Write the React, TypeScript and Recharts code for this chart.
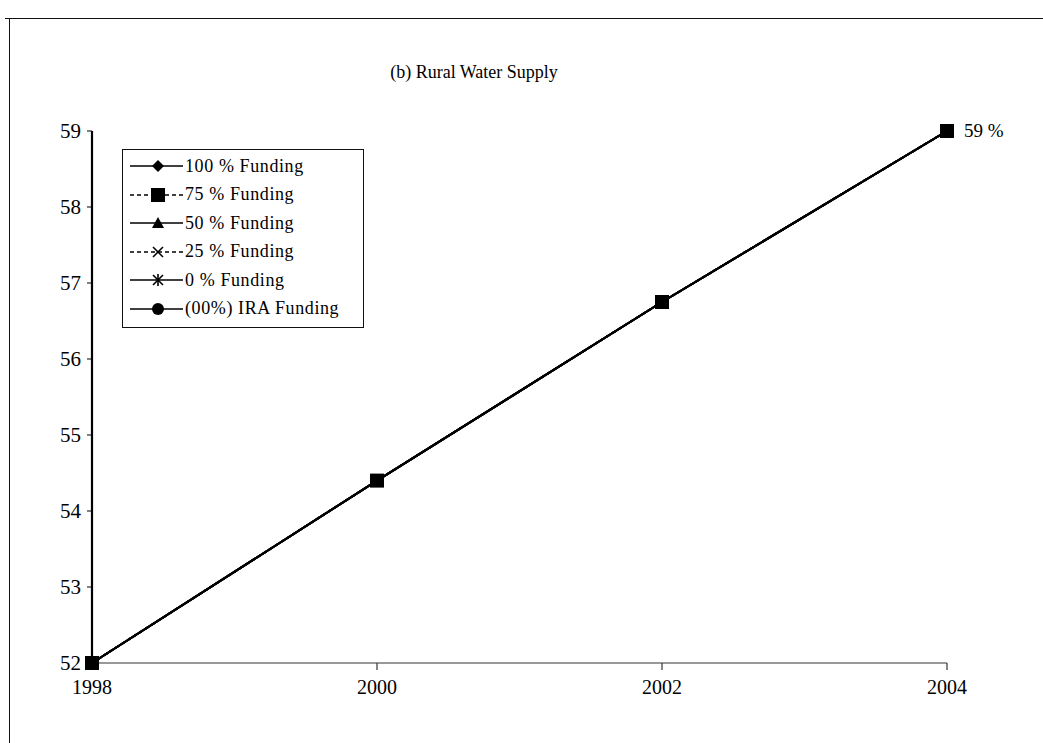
import { LineChart, Line, XAxis, YAxis, Legend, LabelList } from 'recharts';

// values (all six series coincide)
const years = [1998, 2000, 2002, 2004];
const funding100 = [52, 54.4, 56.75, 59];
const funding75 = [52, 54.4, 56.75, 59];
const funding50 = [52, 54.4, 56.75, 59];
const funding25 = [52, 54.4, 56.75, 59];
const funding0 = [52, 54.4, 56.75, 59];
const fundingIRA = [52, 54.4, 56.75, 59];
const yTicks = [52, 53, 54, 55, 56, 57, 58, 59];

const data = years.map((year, i) => ({
    year,
    f100: funding100[i],
    f75: funding75[i],
    f50: funding50[i],
    f25: funding25[i],
    f0: funding0[i],
    fIRA: fundingIRA[i],
}));

const FONT = '"Liberation Serif", "Times New Roman", serif';

type Marker = 'diamond' | 'square' | 'triangle' | 'x' | 'star' | 'circle';

// legend order
const series: { key: string; name: string; marker: Marker; dash?: string }[] = [
    { key: 'f100', name: '100 % Funding', marker: 'diamond' },
    { key: 'f75', name: '75 % Funding', marker: 'square', dash: '4 3' },
    { key: 'f50', name: '50 % Funding', marker: 'triangle' },
    { key: 'f25', name: '25 % Funding', marker: 'x', dash: '4 3' },
    { key: 'f0', name: '0 % Funding', marker: 'star' },
    { key: 'fIRA', name: '(00%) IRA Funding', marker: 'circle' },
];

// draw order: square series last so it sits on top
const drawOrder = ['f100', 'f50', 'f25', 'f0', 'fIRA', 'f75'];

const renderMarker = (marker: Marker, cx: number, cy: number, key?: string) => {
    switch (marker) {
        case 'diamond':
            return <polygon key={key} points={`${cx},${cy - 6} ${cx + 6},${cy} ${cx},${cy + 6} ${cx - 6},${cy}`} fill="#000" />;
        case 'square':
            return <rect key={key} x={cx - 7} y={cy - 7} width={14} height={14} fill="#000" />;
        case 'triangle':
            return <polygon key={key} points={`${cx},${cy - 6} ${cx + 6},${cy + 5} ${cx - 6},${cy + 5}`} fill="#000" />;
        case 'x':
            return (
                <g key={key} stroke="#000" strokeWidth={1.5}>
                    <line x1={cx - 5} y1={cy - 5} x2={cx + 5} y2={cy + 5} />
                    <line x1={cx - 5} y1={cy + 5} x2={cx + 5} y2={cy - 5} />
                </g>
            );
        case 'star':
            return (
                <g key={key} stroke="#000" strokeWidth={1.6}>
                    <line x1={cx - 5} y1={cy - 5} x2={cx + 5} y2={cy + 5} />
                    <line x1={cx - 5} y1={cy + 5} x2={cx + 5} y2={cy - 5} />
                    <line x1={cx} y1={cy - 6} x2={cx} y2={cy + 6} />
                </g>
            );
        case 'circle':
        default:
            return <circle key={key} cx={cx} cy={cy} r={6} fill="#000" />;
    }
};

const LegendBox = () => (
    <div
        style={{
            border: '1.5px solid #111',
            background: '#fff',
            width: 240,
            padding: '2px 0 4px 0',
            fontFamily: FONT,
        }}
    >
        {series.map((s) => (
            <div key={s.key} style={{ display: 'flex', alignItems: 'center', height: 28.5 }}>
                <svg width={62} height={20} style={{ flex: 'none' }}>
                    <line x1={7} y1={10} x2={60} y2={10} stroke="#000" strokeWidth={1.6} strokeDasharray={s.dash} />
                    {renderMarker(s.marker, 35, 10)}
                </svg>
                <span style={{ fontSize: 18, letterSpacing: 0.6, color: '#000', whiteSpace: 'nowrap' }}>
                    {s.name}
                </span>
            </div>
        ))}
    </div>
);

const EndLabel = (props: any) => {
    const { x, y, value, index } = props;
    if (index !== years.length - 1) return null;
    return (
        <text x={x + 17} y={y} dy={6} fontFamily={FONT} fontSize={19} fill="#000">
            {`${value} %`}
        </text>
    );
};

export default function App() {
    return (
        <div style={{ position: 'absolute', left: 0, top: 0, width: 1043, height: 743, background: '#fff' }}>
            {/* scanned page frame */}
            <div style={{ position: 'absolute', left: 5, top: 18, width: 1038, borderTop: '1.5px solid #111' }} />
            <div style={{ position: 'absolute', left: 9, top: 18, height: 725, borderLeft: '1.5px solid #111' }} />

            <div
                style={{
                    position: 'absolute',
                    left: 354,
                    top: 62,
                    width: 240,
                    textAlign: 'center',
                    fontFamily: FONT,
                    fontSize: 18,
                    color: '#000',
                }}
            >
                (b) Rural Water Supply
            </div>

            <LineChart
                width={1043}
                height={743}
                data={data}
                margin={{ top: 131, right: 96, bottom: 50, left: 48 }}
            >
                <XAxis
                    dataKey="year"
                    type="number"
                    domain={[1998, 2004]}
                    ticks={years}
                    height={30}
                    axisLine={{ stroke: '#333', strokeWidth: 1.2 }}
                    tickLine={{ stroke: '#333', strokeWidth: 1.2 }}
                    tickSize={7}
                    tickMargin={10}
                    tick={{ fill: '#000', fontFamily: FONT, fontSize: 20 }}
                />
                <YAxis
                    type="number"
                    domain={[52, 59]}
                    ticks={yTicks}
                    width={44}
                    axisLine={{ stroke: '#000', strokeWidth: 2.2 }}
                    tickLine={{ stroke: '#000', strokeWidth: 1 }}
                    tickSize={5}
                    tickMargin={6}
                    tick={{ fill: '#000', fontFamily: FONT, fontSize: 21 }}
                />
                <Legend
                    layout="vertical"
                    align="center"
                    verticalAlign="middle"
                    content={() => <LegendBox />}
                    wrapperStyle={{ left: 122, top: 149, width: 'auto' }}
                />
                {drawOrder.map((k) => {
                    const s = series.find((d) => d.key === k)!;
                    return (
                        <Line
                            key={s.key}
                            dataKey={s.key}
                            name={s.name}
                            stroke="#000"
                            strokeWidth={2}
                            strokeDasharray={s.dash}
                            isAnimationActive={false}
                            dot={(p: any) => renderMarker(s.marker, p.cx, p.cy, `${s.key}-${p.index}`)}
                            activeDot={false}
                        >
                            {s.key === 'f75' && <LabelList dataKey="f75" content={EndLabel} />}
                        </Line>
                    );
                })}
            </LineChart>
        </div>
    );
}
